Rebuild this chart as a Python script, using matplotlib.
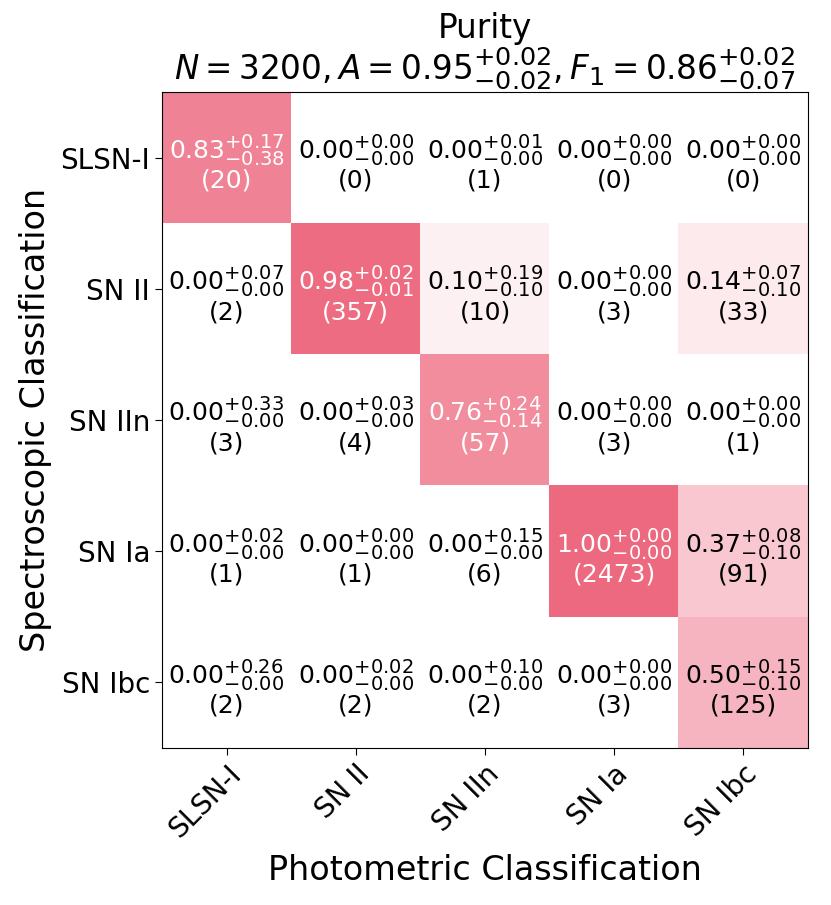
import numpy as np
import matplotlib
matplotlib.use("Agg")
import matplotlib.pyplot as plt
import matplotlib._mathtext as _mt
from matplotlib.colors import LinearSegmentedColormap

# slightly larger super/subscripts, as in the reference rendering
_mt.SHRINK_FACTOR = 0.78

classes = ["SLSN-I", "SN II", "SN IIn", "SN Ia", "SN Ibc"]
purity = np.array([
    [0.83, 0.00, 0.00, 0.00, 0.00],
    [0.00, 0.98, 0.10, 0.00, 0.14],
    [0.00, 0.00, 0.76, 0.00, 0.00],
    [0.00, 0.00, 0.00, 1.00, 0.37],
    [0.00, 0.00, 0.00, 0.00, 0.50],
])
err_up = np.array([
    [0.17, 0.00, 0.01, 0.00, 0.00],
    [0.07, 0.02, 0.19, 0.00, 0.07],
    [0.33, 0.03, 0.24, 0.00, 0.00],
    [0.02, 0.00, 0.15, 0.00, 0.08],
    [0.26, 0.02, 0.10, 0.00, 0.15],
])
err_lo = np.array([
    [0.38, 0.00, 0.00, 0.00, 0.00],
    [0.00, 0.01, 0.10, 0.00, 0.10],
    [0.00, 0.00, 0.14, 0.00, 0.00],
    [0.00, 0.00, 0.00, 0.00, 0.10],
    [0.00, 0.00, 0.00, 0.00, 0.10],
])
counts = np.array([
    [20, 0, 1, 0, 0],
    [2, 357, 10, 3, 33],
    [3, 4, 57, 3, 1],
    [1, 1, 6, 2473, 91],
    [2, 2, 2, 3, 125],
])
title_line1 = "Purity"
title_line2 = r"$N=3200, A=0.95^{+0.02}_{-0.02}, F_1=0.86^{+0.02}_{-0.07}$"

cmap = LinearSegmentedColormap.from_list("pinkish", ["#ffffff", "#ec6279"])

fig = plt.figure(figsize=(8.31, 9.05), dpi=100)
ax = fig.add_axes([162/831, 1-748/905, (808-162)/831, (748-92)/905])
ax.imshow(purity, cmap=cmap, vmin=0, vmax=1.05, aspect="auto")

n = len(classes)
for i in range(n):
    for j in range(n):
        col = "white" if purity[i, j] > 0.5 else "black"
        s = (r"$%.2f^{+%.2f}_{-%.2f}$" % (purity[i, j], err_up[i, j], err_lo[i, j])
             + "\n(%d)" % counts[i, j])
        ax.text(j, i + 0.04, s, ha="center", va="center", color=col, fontsize=18,
                linespacing=1.05)

ax.set_xticks(range(n))
ax.set_yticks(range(n))
ax.set_xticklabels(classes, rotation=45, ha="right", rotation_mode="anchor", fontsize=20)
ax.set_yticklabels(classes, fontsize=20)
ax.tick_params(length=5)
ax.set_xlabel("Photometric Classification", fontsize=24, labelpad=8)
ax.set_ylabel("Spectroscopic Classification", fontsize=24, labelpad=6)
ax.set_title(title_line1 + "\n" + title_line2, fontsize=23.5, linespacing=1.0, pad=2)

fig.savefig("out.png", dpi=100)
